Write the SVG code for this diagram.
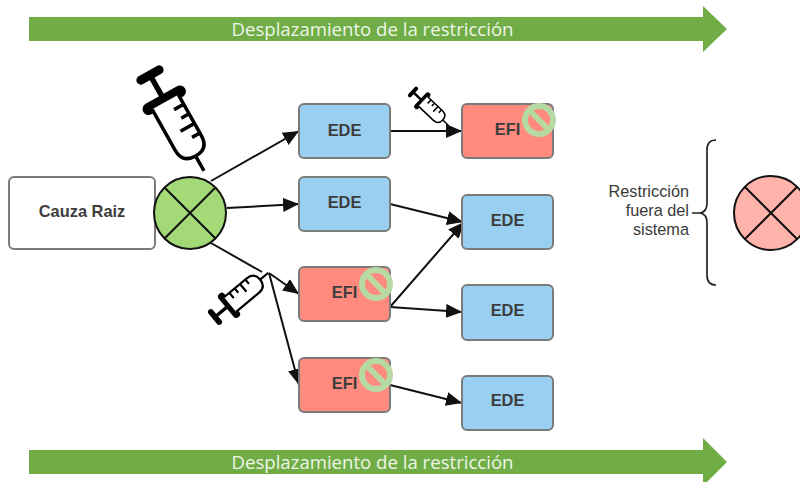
<svg xmlns="http://www.w3.org/2000/svg" width="800" height="482" viewBox="0 0 800 482">
<style>
.box{stroke:#7b7b7b;stroke-width:2}
.blue{fill:#99d0f2}
.red{fill:#ff8a7d}
.t{font-family:"Liberation Sans",Arial,sans-serif;font-weight:bold;font-size:16.4px;fill:#3d3d3d;text-anchor:middle}
.banner{font-family:"Open Sans","Noto Sans",sans-serif;font-size:18.6px;fill:#eef5e8;text-anchor:middle}
.side{font-family:"Liberation Sans",Arial,sans-serif;font-size:16.3px;fill:#3a3a3a;text-anchor:end}
.con{fill:none;stroke:#111;stroke-width:2;marker-end:url(#arr)}
.x{stroke:#111;stroke-width:2}
.block{fill:none;stroke:#b7d9a3;stroke-width:6}
</style>
<defs>
<marker id="arr" markerUnits="userSpaceOnUse" markerWidth="17" markerHeight="14" refX="16" refY="7" orient="auto"><path d="M0 0L16 7L0 14Z" fill="#111"/></marker>
<g id="syr">
<rect x="-15" y="-4.500" width="30" height="9" rx="4.500" fill="#000" stroke="none"/>
<path d="M0 0V26" stroke="#000" stroke-width="5.500" fill="none"/>
<rect x="-24" y="23" width="48" height="12" rx="6" fill="#000"/>
<path d="M-15 31V78Q-15 93 0 93Q15 93 15 78V31" fill="#fff" stroke="#000" stroke-width="3.500"/>
<path d="M0 93V110" stroke="#000" stroke-width="3.500" fill="none"/>
<path d="M15 42H4M15 53H6M15 64H-1M15 75H6" stroke="#000" stroke-width="3.500" fill="none"/>
</g>
<g id="blk"><circle r="14" class="block"/><path d="M-10 -10L10 10" class="block"/></g>
</defs>

<g id="banner-top">
<path d="M29 17H703V6L727 29L703 52V41H29Z" fill="#70ad47"/>
<text x="372.500" y="36" class="banner">Desplazamiento de la restricción</text>
</g>
<g id="banner-bottom">
<path d="M29 450H703V438L727 462L703 486V474H29Z" fill="#70ad47"/>
<text x="372.500" y="468.500" class="banner">Desplazamiento de la restricción</text>
</g>

<g id="connectors">
<path class="con" d="M211 181L299 131"/>
<path class="con" d="M227 208L299 204"/>
<path class="con" d="M211 243L262 272" style="marker-end:none"/>
<path class="con" d="M269 273L299 294"/>
<path class="con" d="M269 273L299 385"/>
<path class="con" d="M390 131L462 131"/>
<path class="con" d="M390 204L463 222"/>
<path class="con" d="M390 307L464 222"/>
<path class="con" d="M390 307L462 312"/>
<path class="con" d="M390 385L462 403"/>
</g>

<g id="syringe-large"><use href="#syr" transform="translate(150 75) rotate(-29.400)"/></g>
<g id="syringe-small"><use href="#syr" transform="translate(413 92) rotate(-46.700) scale(.44)"/></g>
<g id="syringe-mid"><use href="#syr" transform="translate(215 317) rotate(-129.700) scale(.63)"/></g>

<g id="cauza-raiz">
<rect x="9" y="177" width="146" height="72" rx="5" fill="#fff" class="box"/>
<text x="82" y="216.500" class="t">Cauza Raiz</text>
</g>
<g id="root-circle">
<circle cx="190" cy="213" r="36" fill="#a3d977" stroke="#111" stroke-width="2"/>
<path class="x" d="M164.500 187.500L215.500 238.500M215.500 187.500L164.500 238.500"/>
</g>

<g id="ede-1"><rect x="299" y="104" width="91" height="54" rx="5" class="box blue"/><text x="344.500" y="136" class="t">EDE</text></g>
<g id="ede-2"><rect x="299" y="177" width="91" height="54" rx="5" class="box blue"/><text x="344.500" y="207.500" class="t">EDE</text></g>
<g id="efi-1"><rect x="299" y="267" width="91" height="54" rx="5" class="box red"/><text x="344.500" y="298" class="t">EFI</text><use href="#blk" x="376" y="284"/></g>
<g id="efi-2"><rect x="299" y="358" width="91" height="54" rx="5" class="box red"/><text x="344.500" y="389" class="t">EFI</text><use href="#blk" x="376" y="375"/></g>
<g id="efi-3"><rect x="462" y="104" width="91" height="54" rx="5" class="box red"/><text x="507.500" y="135" class="t">EFI</text><use href="#blk" x="539" y="120"/></g>
<g id="ede-3"><rect x="462" y="195" width="91" height="54" rx="5" class="box blue"/><text x="507.500" y="226" class="t">EDE</text></g>
<g id="ede-4"><rect x="462" y="285" width="91" height="55" rx="5" class="box blue"/><text x="507.500" y="316" class="t">EDE</text></g>
<g id="ede-5"><rect x="462" y="376" width="91" height="54" rx="5" class="box blue"/><text x="507.500" y="406" class="t">EDE</text></g>

<g id="restriccion">
<text x="689" y="197" class="side">Restricción</text>
<text x="689" y="216" class="side">fuera del</text>
<text x="689" y="235" class="side">sistema</text>
<path d="M716 140Q707 140 707 150V203Q707 212 700 213H692M700 213Q707 214 707 223V275Q707 285 716 285" fill="none" stroke="#222" stroke-width="1.700"/>
</g>
<g id="outside-circle">
<circle cx="771" cy="213" r="37" fill="#ffb3ab" stroke="#111" stroke-width="2"/>
<path class="x" d="M745 187L797 239M797 187L745 239"/>
</g>
</svg>
